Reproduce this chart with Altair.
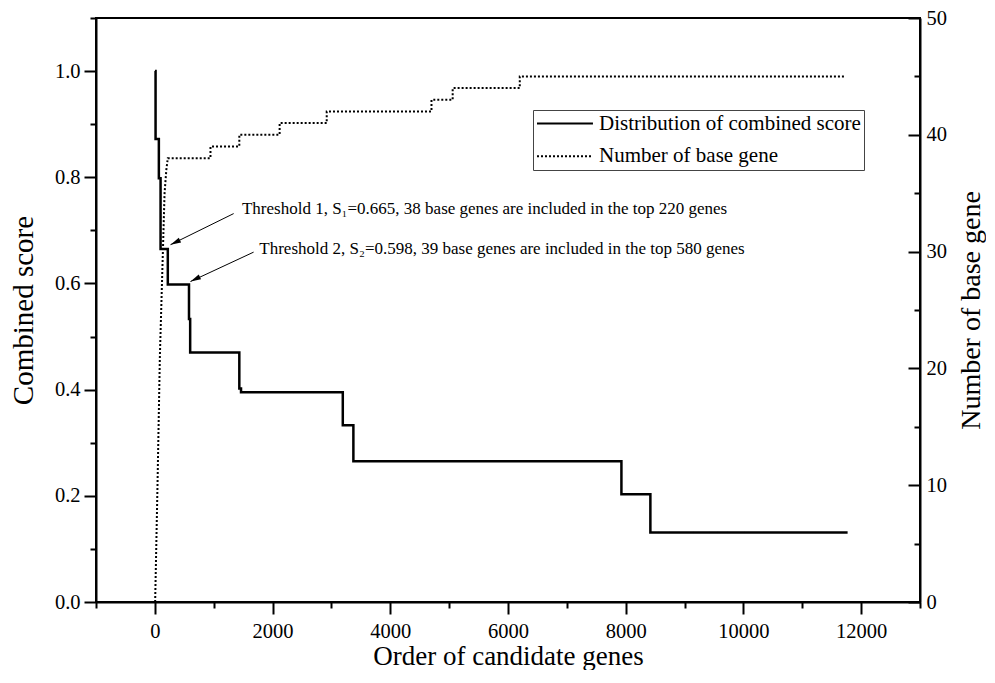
import altair as alt
import pandas as pd

# ---------------- data ----------------
# Combined score: step function, start of each level (order) and its value
SCORE_X = [1, 12, 68, 97, 220, 580, 600, 1435, 1464, 3193, 3373, 7927, 8419, 11770]
SCORE_Y = [1.0, 0.872, 0.798, 0.665, 0.598, 0.533, 0.470, 0.402, 0.395, 0.333, 0.265, 0.203, 0.131, 0.131]

# Number of base genes (cumulative), dotted line
BASE_X = [5, 45, 85, 125, 165, 195, 220, 945, 945, 1435, 1435, 2120, 2120, 2920, 2920,
          4700, 4700, 5060, 5060, 6200, 6200, 11720]
BASE_Y = [0, 10, 21, 28, 35, 37, 38, 38, 39, 39, 40, 40, 41, 41, 42,
          42, 43, 43, 44, 44, 45, 45]

SERIES = ["Distribution of combined score", "Number of base gene"]

X_TICKS = list(range(-1000, 13001, 1000))
Y_LEFT_TICKS = [round(i * 0.1, 1) for i in range(12)]
Y_RIGHT_TICKS = list(range(0, 51, 5))

ANNOT_TEXT = [
    "Threshold 1, S\u2081=0.665, 38 base genes are included in the top 220 genes",
    "Threshold 2, S\u2082=0.598, 39 base genes are included in the top 580 genes",
]
ANNOT_X = [1480, 1775]
ANNOT_Y = [0.730, 0.656]

ARROW_X = [1339, 1678]
ARROW_Y = [0.7316, 0.659]
ARROW_X2 = [266, 605]
ARROW_Y2 = [0.673, 0.6036]

FONT = "Liberation Serif"

# ---------------- tables ----------------
score_df = pd.DataFrame({"order": SCORE_X, "score": SCORE_Y, "series": SERIES[0]})
base_df = pd.DataFrame({"order": BASE_X, "count": BASE_Y, "series": SERIES[1]})
annot_df = pd.DataFrame({"order": ANNOT_X, "score": ANNOT_Y, "label": ANNOT_TEXT})
arrow_df = pd.DataFrame({"order": ARROW_X, "score": ARROW_Y, "order2": ARROW_X2, "score2": ARROW_Y2})
head_df = pd.DataFrame({"order": ARROW_X2, "score": ARROW_Y2})

# ---------------- axes / scales ----------------
common_axis = dict(
    labelFont=FONT, titleFont=FONT, labelColor="black", titleColor="black",
    titleFontWeight="normal", domainColor="black", domainWidth=2,
    tickColor="black", tickWidth=2, grid=False, labelFlush=False, labelOverlap=False,
)

x_axis = alt.Axis(
    values=X_TICKS,
    labelExpr="datum.value % 2000 === 0 ? format(datum.value, 'd') : ''",
    tickSize={"expr": "datum.value % 2000 === 0 ? 12 : 6"},
    labelFontSize=20.5, labelPadding=7,
    title="Order of candidate genes", titleFontSize=27, titlePadding=2,
    **common_axis,
)
left_axis = alt.Axis(
    values=Y_LEFT_TICKS,
    labelExpr="round(datum.value * 10) % 2 === 0 ? format(datum.value, '.1f') : ''",
    tickSize={"expr": "round(datum.value * 10) % 2 === 0 ? 12 : 6"},
    labelFontSize=20.5, labelPadding=4,
    title="Combined score", titleFontSize=29, titlePadding=16,
    **common_axis,
)
right_axis = alt.Axis(
    orient="right",
    values=Y_RIGHT_TICKS,
    labelExpr="datum.value % 10 === 0 ? datum.label : ''",
    tickSize={"expr": "datum.value % 10 === 0 ? -12 : -6"},
    labelFontSize=20.5, labelPadding=18,
    title="Number of base gene", titleFontSize=28, titlePadding=11,
    titleAngle=270, titleBaseline="top",
    **common_axis,
)

x_scale = alt.Scale(domain=[-1000, 13000], nice=False, zero=False)
yl_scale = alt.Scale(domain=[0, 1.1], nice=False, zero=False)
yr_scale = alt.Scale(domain=[0, 50], nice=False, zero=False)

X = alt.X("order:Q", scale=x_scale, axis=x_axis)
YL = alt.Y("score:Q", scale=yl_scale, axis=left_axis)

legend = alt.Legend(
    title=None, orient="none", legendX=437, legendY=92,
    symbolType="M-1,0H4.89", symbolSize=361, symbolStrokeWidth=2,
    symbolStrokeColor="black", symbolFillColor="transparent",
    labelFont=FONT, labelFontSize=21, labelColor="black", labelOffset=42,
    labelLimit=500, padding=3, rowPadding=10.7,
    strokeColor="#444", fillColor="white",
)
dash_scale = alt.Scale(domain=SERIES, range=[[1, 0], [2, 2]])

# ---------------- layers ----------------
score_line = alt.Chart(score_df).mark_line(
    interpolate="step-after", color="black", strokeWidth=2.5
).encode(
    x=X, y=YL,
    strokeDash=alt.StrokeDash("series:N", scale=dash_scale, legend=legend),
)

arrows = alt.Chart(arrow_df).mark_rule(color="black", strokeWidth=1).encode(
    x=X, y=YL, x2="order2:Q", y2="score2:Q"
)

heads = alt.Chart(head_df).mark_point(
    shape="M0,0L-0.5,2L0.5,2Z", filled=True, size=110, angle=244,
    color="black", opacity=1
).encode(x=X, y=YL)

texts = alt.Chart(annot_df).mark_text(
    align="left", baseline="alphabetic", font=FONT, fontSize=17, color="black"
).encode(x=X, y=YL, text="label:N")

left_group = alt.layer(score_line, arrows, heads, texts)

base_line = alt.Chart(base_df).mark_line(color="black", strokeWidth=2).encode(
    x=X,
    y=alt.Y("count:Q", scale=yr_scale, axis=right_axis),
    strokeDash=alt.StrokeDash("series:N", scale=dash_scale, legend=legend),
)

chart = alt.layer(left_group, base_line).resolve_scale(y="independent").properties(
    width=824, height=584,
    autosize=alt.AutoSizeParams(type="none"),
    padding={"left": 88, "top": 10, "right": 66, "bottom": 68},
    background="white",
).configure_view(stroke="black", strokeWidth=2)

chart.save("out.html", embed_options={"renderer": "svg", "actions": False})
